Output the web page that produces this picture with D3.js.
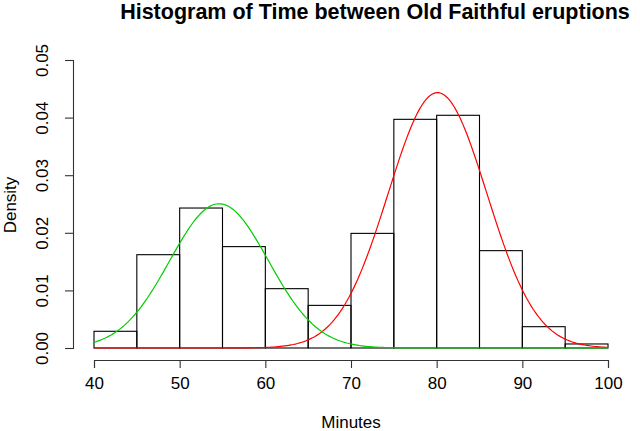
<!DOCTYPE html>
<html><head><meta charset="utf-8">
<script src="https://cdn.jsdelivr.net/npm/d3@7"></script>
<style>body{margin:0;background:#fff}svg{display:block}text{font-family:"Liberation Sans",Arial,Helvetica,sans-serif;fill:#000}</style>
</head><body>
<script>
// Histogram bins (minutes) and densities
const binStarts = [40,45,50,55,60,65,70,75,80,85,90,95];
const binWidth = 5;
const densities = [0.0029,0.0162,0.0243,0.0176,0.0103,0.0074,0.0199,0.0397,0.0404,0.0169,0.0037,0.0007];
const xTicks = [40,50,60,70,80,90,100];
const yTicks = [0.00,0.01,0.02,0.03,0.04,0.05];
// Normal component curves (mean, sd, weight)
const curveNames = ["green","red"];
const curveMeans = [54.6, 80.1];
const curveSDs = [5.75, 5.75];
const curveWeights = [0.361, 0.639];
const curveColors = ["#00cd00","#ff0000"];

const W=640,H=431;
const svg=d3.select("body").append("svg").attr("width",W).attr("height",H);
const x=d3.scaleLinear().domain([40,100]).range([94,608]);
const y=d3.scaleLinear().domain([0,0.05]).range([348,60]);

// bars
svg.append("g").selectAll("rect").data(binStarts).join("rect")
  .attr("x",(d)=>x(d)).attr("width",(d)=>x(d+binWidth)-x(d))
  .attr("y",(d,i)=>y(densities[i])).attr("height",(d,i)=>y(0)-y(densities[i]))
  .attr("fill","none").attr("stroke","#000").attr("stroke-width",1.1);

// curves
const xs=d3.range(40,100.001,0.25);
const dn=(v,m,s)=>Math.exp(-0.5*((v-m)/s)**2)/(s*Math.sqrt(2*Math.PI));
const line=d3.line().x(d=>x(d[0])).y(d=>y(d[1]));
[1,0].forEach(k=>{
  svg.append("path").attr("d",line(xs.map(v=>[v,curveWeights[k]*dn(v,curveMeans[k],curveSDs[k])])))
   .attr("fill","none").attr("stroke",curveColors[k]).attr("stroke-width",1.2);
});

// axes
const xa=svg.append("g").attr("transform","translate(0,360)")
  .call(d3.axisBottom(x).tickValues(xTicks).tickSize(8).tickPadding(5).tickFormat(d3.format("d")));
const ya=svg.append("g").attr("transform","translate(73,0)")
  .call(d3.axisLeft(y).tickValues(yTicks).tickSize(8).tickPadding(6).tickFormat(d3.format(".2f")));
[xa,ya].forEach(a=>{a.select(".domain").attr("stroke","#333").attr("stroke-width",1.1);
  a.selectAll(".tick line").attr("stroke","#333").attr("stroke-width",1.1);
  a.selectAll("text").attr("font-family","Liberation Sans, Arial, sans-serif").attr("font-size",17).attr("fill","#000");});
ya.selectAll(".tick text").attr("text-anchor","middle").attr("x",0).attr("y",0)
  .attr("dx",null).attr("dy",null)
  .attr("transform","translate(-25,0) rotate(-90)");
xa.selectAll(".tick text").attr("dy","0.95em");

svg.append("text").attr("x",375).attr("y",19).attr("text-anchor","middle")
  .attr("font-weight","bold").attr("font-size",21.5).text("Histogram of Time between Old Faithful eruptions");
svg.append("text").attr("x",351).attr("y",428).attr("text-anchor","middle").attr("font-size",17).text("Minutes");
svg.append("text").attr("transform","translate(16,205) rotate(-90)").attr("text-anchor","middle").attr("font-size",17).text("Density");
</script>
</body></html>
